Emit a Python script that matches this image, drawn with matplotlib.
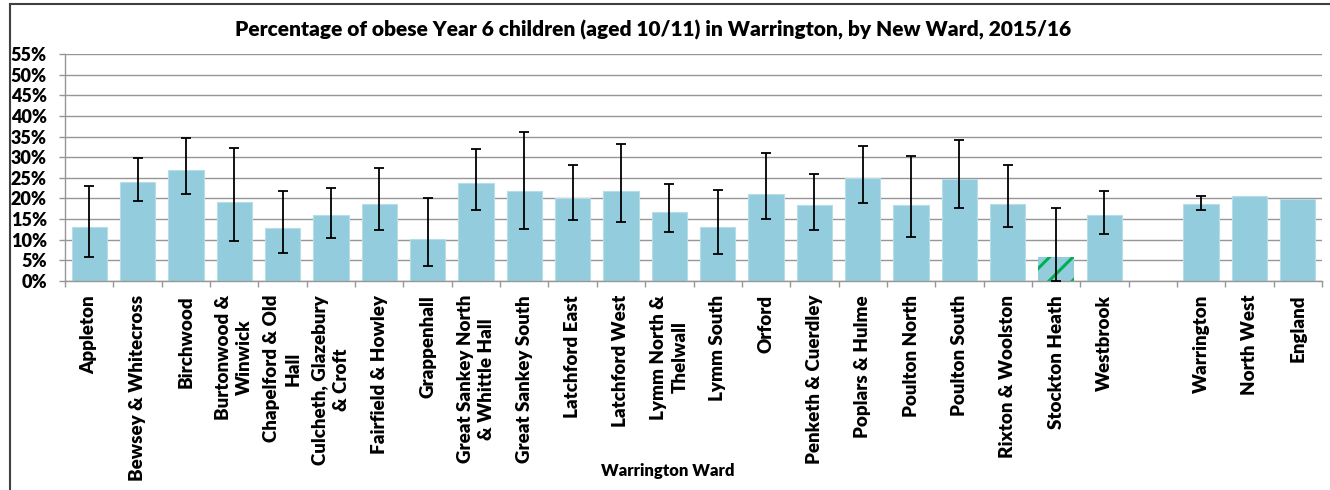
import numpy as np
import matplotlib
matplotlib.use("Agg")
import matplotlib.pyplot as plt
from matplotlib.ticker import PercentFormatter, FixedLocator

# -------------------- data (percent) --------------------

wards = [
    "Appleton", "Bewsey & Whitecross", "Birchwood", "Burtonwood &\nWinwick",
    "Chapelford & Old\nHall", "Culcheth, Glazebury\n& Croft", "Fairfield & Howley",
    "Grappenhall", "Great Sankey North\n& Whittle Hall", "Great Sankey South",
    "Latchford East", "Latchford West", "Lymm North &\nThelwall", "Lymm South",
    "Orford", "Penketh & Cuerdley", "Poplars & Hulme", "Poulton North",
    "Poulton South", "Rixton & Woolston", "Stockton Heath", "Westbrook",
]
ward_pct = [13.2, 23.9, 26.9, 19.1, 12.9, 16.0, 18.7, 10.1, 23.8, 21.9, 20.2,
            21.9, 16.8, 13.2, 21.0, 18.3, 25.0, 18.3, 24.7, 18.7, 5.8, 16.0]
ward_lo = [5.7, 19.4, 21.0, 9.6, 6.9, 10.3, 12.3, 3.7, 17.3, 12.7, 14.7,
           14.3, 11.9, 6.5, 15.0, 12.3, 19.0, 10.7, 17.7, 13.1, 0.0, 11.5]
ward_hi = [23.0, 29.9, 34.6, 32.3, 21.8, 22.5, 27.3, 20.2, 31.9, 36.2, 28.0,
           33.1, 23.6, 22.1, 31.0, 26.0, 32.6, 30.2, 34.2, 28.0, 17.8, 21.8]

areas = ["Warrington", "North West", "England"]
area_pct = [18.7, 20.6, 19.9]
area_lo = [17.3, np.nan, np.nan]
area_hi = [20.6, np.nan, np.nan]

highlight = "Stockton Heath"   # significantly lower than England

# -------------------- styling --------------------

BAR = "#93cddd"
GRID = "#969696"
HATCH_GREEN = "#00b050"
WEIGHT = "heavy"

# hatch tiles are one inch wide, so a lower dpi gives the wider Excel stripe spacing;
# K keeps every point size equal to what it was at 100 dpi
W, H, DPI = 1330, 490, 70
K = 100 / DPI

plt.rcParams["font.family"] = ["Lato", "DejaVu Sans"]
plt.rcParams["hatch.linewidth"] = 2.2 * K

fig = plt.figure(figsize=(W / DPI, H / DPI), dpi=DPI)
ax = fig.add_axes([65 / W, 1 - 281 / H, (1322 - 65) / W, (281 - 54) / H])

# ward slots, one empty slot, then the comparator areas
x_w = np.arange(len(wards))
x_a = np.arange(len(areas)) + len(wards) + 1
n_slots = len(wards) + 1 + len(areas)
hi_idx = wards.index(highlight)

plain = [i for i in range(len(wards)) if i != hi_idx]
ax.bar(x_w[plain], np.array(ward_pct)[plain], width=0.73, color=BAR,
       edgecolor="#b7dee8", linewidth=0.8 * K, zorder=2)
ax.bar(x_w[hi_idx], ward_pct[hi_idx], width=0.73, color=BAR, hatch="/",
       edgecolor=HATCH_GREEN, linewidth=0, zorder=2)
ax.bar(x_a, area_pct, width=0.73, color=BAR, edgecolor="#b7dee8", linewidth=0.8 * K, zorder=2)

eb = dict(fmt="none", ecolor="black", elinewidth=1.3 * K, capsize=3.5 * K,
          capthick=1.3 * K, zorder=3)
ward_pct_a = np.array(ward_pct)
ax.errorbar(x_w, ward_pct_a,
            yerr=[ward_pct_a - np.array(ward_lo), np.array(ward_hi) - ward_pct_a], **eb)
area_pct_a = np.array(area_pct)
ax.errorbar(x_a, area_pct_a,
            yerr=[area_pct_a - np.array(area_lo), np.array(area_hi) - area_pct_a], **eb)

# axes
ax.set_xlim(-0.5, n_slots - 0.5)
ax.set_ylim(0, 55)
ax.set_yticks(np.arange(0, 56, 5))
ax.yaxis.set_major_formatter(PercentFormatter(xmax=100, decimals=0))
ax.grid(axis="y", color=GRID, linewidth=1.0 * K, zorder=0)
ax.set_axisbelow(True)

ax.set_xticks(np.r_[x_w, x_a])
ax.set_xticklabels(wards + areas, rotation=90, ha="center", va="top",
                   multialignment="center", fontsize=13.5 * K, fontweight=WEIGHT,
                   linespacing=1.3)
ax.xaxis.set_minor_locator(FixedLocator(np.arange(-0.5, n_slots, 1.0)))
ax.tick_params(axis="x", which="major", length=0, pad=10 * K)
ax.tick_params(axis="x", which="minor", length=4 * K, color=GRID, width=1 * K)
ax.tick_params(axis="y", length=4 * K, color=GRID, width=1 * K, pad=9 * K, labelsize=13 * K)
for lab in ax.get_yticklabels():
    lab.set_fontweight(WEIGHT)

for side in ["top", "right"]:
    ax.spines[side].set_visible(False)
for side in ["left", "bottom"]:
    ax.spines[side].set_color(GRID)
    ax.spines[side].set_linewidth(1.0 * K)

fig.text(653 / W, 1 - 30 / H,
         "Percentage of obese Year 6 children (aged 10/11) in Warrington, by New Ward, 2015/16",
         ha="center", va="center", fontsize=15 * K, fontweight=WEIGHT)
fig.text(668 / W, 1 - 471 / H, "Warrington Ward", ha="center", va="center",
         fontsize=12 * K, fontweight=WEIGHT)

# chart frame (left and top edge visible in the source)
fig.add_artist(plt.Line2D([10 / W, 10 / W], [0, 1 - 4 / H], color="#404040", lw=1.5 * K))
fig.add_artist(plt.Line2D([10 / W, 1], [1 - 4 / H, 1 - 4 / H], color="#404040", lw=1.5 * K))

fig.savefig("out.png", dpi=DPI)
